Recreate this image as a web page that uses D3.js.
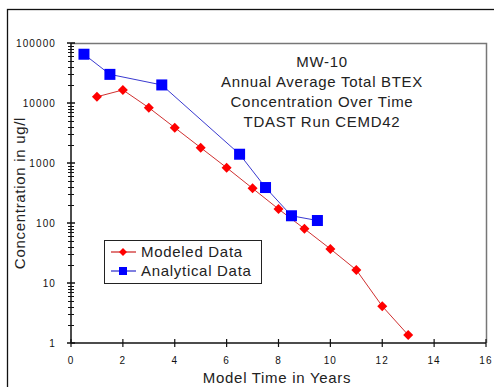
<!DOCTYPE html>
<html>
<head>
<meta charset="utf-8">
<script src="https://cdn.jsdelivr.net/npm/d3@7"></script>
<style>
  body { margin: 0; background: #fff; }
  text { font-family: Arial, "Liberation Sans", sans-serif; }
</style>
</head>
<body>
<div id="viz"></div>
<script>
// modeled data (red diamonds)
const modeledYears = [1, 2, 3, 4, 5, 6, 7, 8, 9, 10, 11, 12, 13]
const modeledConc = [12700, 16500, 8350, 3880, 1800, 835, 378, 171, 80, 37, 16.5, 4.1, 1.36]

// analytical data (blue squares)
const analyticalYears = [0.5, 1.5, 3.5, 6.5, 7.5, 8.5, 9.5]
const analyticalConc = [65000, 30000, 20000, 1400, 390, 132, 110]

const xTicks = [0, 2, 4, 6, 8, 10, 12, 14, 16]
const yTicks = [1, 10, 100, 1000, 10000, 100000]
const titleLines = ["MW-10", "Annual Average Total BTEX", "Concentration Over Time", "TDAST Run CEMD42"]

const width = 494
const height = 387
const margin = {top: 43, right: 8, bottom: 44, left: 71}

const svg = d3.select("#viz").append("svg").attr("width", width).attr("height", height)

// outer frame
svg.append("rect").attr("x", 7.5).attr("y", 9.5).attr("width", 495).attr("height", 395)
    .attr("fill", "none").attr("stroke", "#111").attr("stroke-width", 1.3)

const xScale = d3.scaleLinear().domain([0, 16]).range([margin.left, width - margin.right])
const yScale = d3.scaleLog().domain([1, 100000]).range([height - margin.bottom, margin.top])

// plot frame: top and right in grey
svg.append("path")
    .attr("d", `M${xScale(0)},${yScale(100000) + 0.5}H${xScale(16) + 0.5}V${yScale(1)}`)
    .attr("fill", "none").attr("stroke", "#777").attr("stroke-width", 1.5)

// minor log ticks
const minorTicks = []
for (let d = 1; d < 100000; d *= 10) {
    for (let k = 2; k <= 9; k++) minorTicks.push(d * k)
}

const yAxisG = svg.append("g")
yAxisG.append("line").attr("x1", xScale(0)).attr("x2", xScale(0))
    .attr("y1", yScale(1)).attr("y2", yScale(100000)).attr("stroke", "#111").attr("stroke-width", 1.5)
yAxisG.selectAll(".minor").data(minorTicks).join("line")
    .attr("x1", xScale(0) - 3).attr("x2", xScale(0) + 3)
    .attr("y1", d => Math.round(yScale(d)) + 0.5).attr("y2", d => Math.round(yScale(d)) + 0.5)
    .attr("stroke", "#111").attr("stroke-width", 1)
yAxisG.selectAll(".major").data(yTicks).join("line")
    .attr("x1", xScale(0) - 4).attr("x2", xScale(0) + 4)
    .attr("y1", d => yScale(d)).attr("y2", d => yScale(d))
    .attr("stroke", "#111").attr("stroke-width", 1.5)
yAxisG.selectAll("text").data(yTicks).join("text")
    .attr("x", 56).attr("y", d => yScale(d) + 3.5)
    .attr("text-anchor", "end").attr("font-size", 10).attr("letter-spacing", 1.1).attr("fill", "#111")
    .text(d => d)

const xAxisG = svg.append("g")
xAxisG.append("line").attr("x1", xScale(0)).attr("x2", xScale(16))
    .attr("y1", yScale(1)).attr("y2", yScale(1)).attr("stroke", "#111").attr("stroke-width", 1.5)
xAxisG.selectAll(".tick").data(xTicks).join("line")
    .attr("x1", d => xScale(d)).attr("x2", d => xScale(d))
    .attr("y1", yScale(1) - 4).attr("y2", yScale(1) + 4)
    .attr("stroke", "#111").attr("stroke-width", 1.2)
xAxisG.selectAll("text").data(xTicks).join("text")
    .attr("x", d => xScale(d)).attr("y", yScale(1) + 21)
    .attr("text-anchor", "middle").attr("font-size", 10).attr("letter-spacing", 1.1).attr("fill", "#111")
    .text(d => d)

// axis titles
svg.append("text").attr("x", 277).attr("y", 383).attr("text-anchor", "middle")
    .attr("font-size", 15).attr("letter-spacing", 0.7).attr("fill", "#222").text("Model Time in Years")
svg.append("text").attr("transform", "translate(25,193) rotate(-90)").attr("text-anchor", "middle")
    .attr("font-size", 15).attr("letter-spacing", 0.7).attr("fill", "#222").text("Concentration in ug/l")

// chart title inside plot
svg.append("g").selectAll("text").data(titleLines).join("text")
    .attr("x", 322).attr("y", (d, i) => 67 + i * 20)
    .attr("text-anchor", "middle").attr("font-size", 15).attr("letter-spacing", 0.7).attr("fill", "#222")
    .text(d => d)

const line = d3.line().x(d => xScale(d[0])).y(d => yScale(d[1]))
const modeled = modeledYears.map((x, i) => [x, modeledConc[i]])
const analytical = analyticalYears.map((x, i) => [x, analyticalConc[i]])

svg.append("path").datum(modeled).attr("d", line)
    .attr("fill", "none").attr("stroke", "#d03030").attr("stroke-width", 1)
svg.append("path").datum(analytical).attr("d", line)
    .attr("fill", "none").attr("stroke", "#3a3ad0").attr("stroke-width", 1)

const diamond = d3.symbol().type(d3.symbolDiamond2).size(64)
svg.append("g").selectAll("path").data(modeled).join("path")
    .attr("transform", d => `translate(${xScale(d[0])},${yScale(d[1])})`)
    .attr("d", diamond).attr("fill", "#ff0000")

svg.append("g").selectAll("rect").data(analytical).join("rect")
    .attr("x", d => xScale(d[0]) - 5.5).attr("y", d => yScale(d[1]) - 5.5)
    .attr("width", 11).attr("height", 11).attr("fill", "#0000ff")

// legend
const legend = svg.append("g")
legend.append("rect").attr("x", 104.5).attr("y", 240.5).attr("width", 157).attr("height", 43)
    .attr("fill", "#fff").attr("stroke", "#222").attr("stroke-width", 1)
const legendItems = [
    {label: "Modeled Data", color: "#d03030", mark: "#ff0000", type: "diamond"},
    {label: "Analytical Data", color: "#3a3ad0", mark: "#0000ff", type: "square"}
]
legendItems.forEach((it, i) => {
    const cy = 252 + i * 19
    legend.append("line").attr("x1", 111).attr("x2", 136).attr("y1", cy).attr("y2", cy)
        .attr("stroke", it.color).attr("stroke-width", 1.3)
    if (it.type === "diamond") {
        legend.append("path").attr("transform", `translate(123,${cy})`)
            .attr("d", d3.symbol().type(d3.symbolDiamond2).size(40)).attr("fill", it.mark)
    } else {
        legend.append("rect").attr("x", 119).attr("y", cy - 4).attr("width", 8).attr("height", 8).attr("fill", it.mark)
    }
    legend.append("text").attr("x", 141).attr("y", cy + 5).attr("font-size", 15).attr("letter-spacing", 0.7).attr("fill", "#222").text(it.label)
})
</script>
</body>
</html>
